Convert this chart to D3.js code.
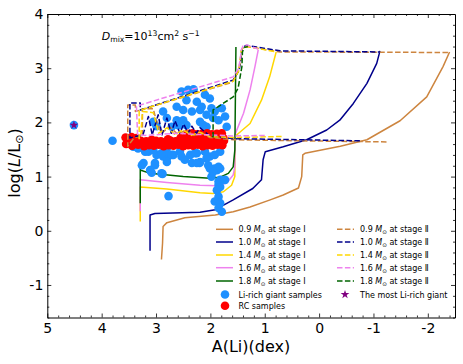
<!DOCTYPE html>
<html><head><meta charset="utf-8">
<script src="https://cdn.jsdelivr.net/npm/d3@7"></script>
<style>body{margin:0;background:#fff}svg{display:block}text{font-family:"DejaVu Sans",sans-serif}</style>
</head><body><svg id="c" width="463" height="364"></svg>
<script>
const xTicks=[5,4,3,2,1,0,-1,-2];
const xTickLabels=["5","4","3","2","1","0","-1","-2"];
const yTicks=[4,3,2,1,0,-1];
const yTickLabels=["4","3","2","1","0","-1"];
const masses=["0.9","1.0","1.4","1.6","1.8"];
const colors=["#CD853F","#00008B","#FFD700","#EE82EE","#006400"];

// stage I tracks [A(Li), logL]
const s1_09=[[2.90,-0.53],[2.88,-0.23],[2.87,0.08],[2.80,0.15],[2.47,0.24],[1.91,0.29],[1.58,0.35],[1.27,0.44],[0.90,0.57],[0.66,0.66],[0.38,0.79],[0.32,1.00],[0.30,1.40],[0.26,1.43],[-0.39,1.56],[-0.88,1.68],[-1.49,2.03],[-1.98,2.47],[-2.28,3.03],[-2.40,3.30]];
const s1_10=[[3.11,-0.37],[3.11,0.29],[3.02,0.32],[2.19,0.34],[1.91,0.39],[1.58,0.57],[1.22,0.78],[1.06,0.94],[1.03,1.31],[0.99,1.46],[0.66,1.55],[0.23,1.68],[-0.14,1.86],[-0.38,2.04],[-0.63,2.35],[-0.88,2.72],[-1.06,3.09],[-1.12,3.32]];
const s1_14=[[3.29,0.17],[3.29,0.81],[2.80,0.77],[2.19,0.70],[1.95,0.69],[1.76,0.72],[1.61,0.84],[1.55,1.00],[1.55,1.74],[1.27,1.98],[1.06,2.41],[0.91,2.84],[0.79,3.30]];
const s1_16=[[3.29,0.36],[3.29,0.94],[2.80,0.89],[2.19,0.84],[1.88,0.83],[1.70,0.88],[1.58,1.03],[1.55,1.18],[1.55,1.77],[1.39,2.17],[1.27,2.60],[1.18,3.03],[1.12,3.34]];
const s1_18=[[3.29,0.51],[3.29,1.27],[3.29,1.12],[3.11,1.06],[2.50,1.00],[2.01,0.97],[1.82,0.99],[1.67,1.06],[1.58,1.18],[1.55,1.49],[1.53,3.39]];

// stage II tracks
const s2_09=[[-1.24,1.64],[0.35,1.66],[1.58,1.68],[2.01,1.72],[2.15,1.80],[2.30,1.76],[2.45,1.86],[2.60,1.78],[2.75,1.92],[2.90,1.80],[3.00,2.05],[3.05,2.25],[3.25,2.25],[3.25,1.75],[3.40,1.72],[3.52,1.56],[3.52,2.32],[3.38,2.32],[3.38,2.20],[1.60,2.74],[1.48,2.95],[1.45,3.15],[1.43,3.33],[1.40,3.38],[1.33,3.40],[1.15,3.37],[0.72,3.30],[-2.39,3.29]];
const s2_10=[[-0.75,1.66],[0.35,1.68],[1.58,1.70],[2.01,1.75],[2.19,1.90],[2.26,1.80],[2.34,1.93],[2.41,1.80],[2.49,1.97],[2.56,1.80],[2.65,2.03],[2.72,1.80],[2.80,2.08],[2.89,1.77],[2.96,2.14],[3.07,1.77],[3.14,2.11],[3.24,1.77],[3.42,1.73],[3.48,1.71],[3.48,2.36],[3.29,2.36],[3.29,2.23],[1.58,2.78],[1.47,2.97],[1.44,3.15],[1.42,3.34],[1.39,3.40],[1.33,3.42],[1.15,3.39],[0.72,3.32],[-1.12,3.30]];
const s2_14=[[0.69,1.74],[1.58,1.72],[2.01,1.74],[2.20,1.82],[2.35,1.76],[2.50,1.86],[2.65,1.78],[2.80,1.90],[2.95,1.80],[3.05,2.18],[3.25,2.20],[3.28,1.76],[3.31,1.70],[3.31,2.22],[1.58,2.76],[1.48,2.95],[1.45,3.15],[1.43,3.32],[1.40,3.38],[1.34,3.40],[1.15,3.37],[0.79,3.30]];
const s2_16=[[1.00,1.76],[1.58,1.75],[2.01,1.77],[2.30,1.78],[2.60,1.80],[2.90,1.78],[3.20,1.76],[3.34,1.78],[3.36,2.30],[1.58,2.84],[1.48,3.00],[1.45,3.17],[1.43,3.34],[1.40,3.41],[1.33,3.43],[1.12,3.35]];
const s2_18=[[1.95,1.72],[1.95,2.23],[1.58,2.47],[1.49,2.63],[1.42,3.03],[1.41,3.30],[1.38,3.38],[1.31,3.40]];

const liRichGiants=[[4.51,1.95],[3.80,1.66],[3.26,1.21],[3.02,1.21],[3.08,1.07],[2.88,1.05],[2.77,0.64],[2.53,1.37],[2.34,1.25],[2.20,1.25],
[2.53,2.57],[2.41,2.60],[2.31,2.61],[2.44,2.41],[2.25,2.38],[2.01,2.44],[2.62,2.29],[2.50,2.23],[2.34,2.20],[2.19,2.23],
[2.07,2.14],[1.92,2.20],[1.79,2.26],[1.73,2.11],[1.85,2.04],[2.19,2.01],[2.50,2.04],[2.59,1.95],[2.71,1.92],[2.87,2.20],
[2.80,2.08],[2.99,1.93],[1.98,2.26],[1.95,2.08],[1.70,1.92],[2.13,1.95],[2.16,2.29],[2.44,1.95],[2.07,1.92],[2.62,2.04],
[3.36,1.55],[3.42,1.55],[3.23,1.55],[3.14,1.46],[2.99,1.40],[2.80,1.34],[2.56,1.46],[2.37,1.40],[2.19,1.27],[2.01,1.37],
[1.82,1.46],[3.23,1.25],[3.11,1.12],[2.90,1.06],[2.01,1.15],[1.88,1.12],[1.98,1.00],[1.82,0.94],[1.85,0.85],[2.87,1.37],
[2.07,1.34],[1.92,1.15],[1.85,1.18],[1.85,0.91],[1.82,0.81],[1.88,0.75],[1.85,0.63],[1.92,0.54],[1.82,0.51],[1.85,0.42],
[1.79,0.35],[3.05,1.49],[2.80,1.52],[2.68,1.40],[3.46,1.68],[2.10,2.51],[3.05,2.01],[2.25,1.43],[2.83,1.46],
[3.33,1.52],[3.20,1.46],[2.90,1.43],[2.71,1.40],[2.28,1.43],[2.10,1.46],[1.92,1.40],[2.80,1.27],[2.47,1.31],[2.25,1.25],
[3.02,1.25],[2.04,1.21],[1.82,1.15],[1.95,1.09],[1.73,0.94]];

const rcSamples=[[3.55,1.60],[3.44,1.57],[3.33,1.59],[3.22,1.56],[3.13,1.58],[3.04,1.57],[2.95,1.59],[2.86,1.56],[2.77,1.58],[2.68,1.57],[2.59,1.59],[2.50,1.56],[2.41,1.58],[2.32,1.57],[2.23,1.59],[2.14,1.56],[2.05,1.58],[1.96,1.57],[1.87,1.59],[1.78,1.58],
[3.50,1.66],[3.39,1.64],[3.28,1.66],[3.18,1.65],[3.09,1.64],[3.00,1.66],[2.91,1.65],[2.82,1.64],[2.73,1.66],[2.64,1.65],[2.55,1.64],[2.46,1.66],[2.37,1.65],[2.28,1.64],[2.19,1.66],[2.10,1.65],[2.01,1.64],[1.92,1.66],[1.83,1.65],[1.75,1.66],
[3.56,1.72],[3.45,1.73],[3.36,1.71],[3.08,1.68],[2.78,1.69],[2.55,1.71],[2.46,1.72],[2.37,1.73],[2.28,1.71],[2.19,1.72],[2.10,1.73],[2.01,1.71],[1.92,1.72],[1.83,1.73],[1.76,1.71],
[2.42,1.79],[2.33,1.80],[2.24,1.78],[2.15,1.79],[2.06,1.80],[1.97,1.78],[1.88,1.79],[1.79,1.80]];

const mostLiRich=[[4.51,1.95]];

const stageI=[s1_09,s1_10,s1_14,s1_16,s1_18];
const stageII=[s2_09,s2_10,s2_14,s2_16,s2_18];

const x=d3.scaleLinear().domain([5,-2.5]).range([47.3,455]);
const y=d3.scaleLinear().domain([-1.6,4]).range([317.5,14]);
const svg=d3.select("#c");
const line=d3.line().x(d=>x(d[0])).y(d=>y(d[1]));
const plot=svg.append("g");

stageI.forEach((t,i)=>plot.append("path").attr("d",line(t)).attr("fill","none")
  .attr("stroke",colors[i]).attr("stroke-width",1.5).attr("stroke-linejoin","round"));

plot.selectAll("circle.b").data(liRichGiants).join("circle").attr("class","b")
  .attr("cx",d=>x(d[0])).attr("cy",d=>y(d[1])).attr("r",4.3).attr("fill","#1E90FF");
plot.selectAll("circle.r").data(rcSamples).join("circle").attr("class","r")
  .attr("cx",d=>x(d[0])).attr("cy",d=>y(d[1])).attr("r",4.3).attr("fill","#FF0000");

stageII.forEach((t,i)=>plot.append("path").attr("d",line(t)).attr("fill","none")
  .attr("stroke",colors[i]).attr("stroke-width",1.5).attr("stroke-dasharray","5.5,2.4").attr("stroke-linejoin","round"));

const star=d3.symbol().type(d3.symbolStar).size(24);
plot.selectAll("path.s").data(mostLiRich).join("path").attr("class","s").attr("d",star)
  .attr("transform",d=>`translate(${x(d[0])},${y(d[1])})`).attr("fill","#800080");

// axes
const fs=14;
function styleAxis(g){g.selectAll("path.domain").attr("stroke","#000").attr("stroke-width",1);
  g.selectAll(".tick line").attr("stroke","#000").attr("stroke-width",0.8);
  g.attr("font-family","DejaVu Sans").attr("font-size",fs);
  g.selectAll("text").attr("fill","#000");}
const xMinor=d3.range(-24,50,2).map(v=>v/10).filter(v=>Math.abs(v-Math.round(v))>1e-6);
const yMinor=d3.range(-16,40,2).map(v=>v/10).filter(v=>Math.abs(v-Math.round(v))>1e-6);
const B=y(-1.6),T=y(4),L=x(5),R=x(-2.5);
svg.append("g").attr("transform",`translate(0,${B})`).call(d3.axisBottom(x).tickValues(xTicks).tickFormat((d,i)=>xTickLabels[i]).tickSizeInner(-4).tickSizeOuter(0).tickPadding(5.5)).call(styleAxis);
svg.append("g").attr("transform",`translate(0,${B})`).call(d3.axisBottom(x).tickValues(xMinor).tickFormat("").tickSizeInner(-2).tickSizeOuter(0)).call(styleAxis).select(".domain").remove();
svg.append("g").attr("transform",`translate(0,${T})`).call(d3.axisTop(x).tickValues(xTicks).tickFormat("").tickSizeInner(-4).tickSizeOuter(0)).call(styleAxis);
svg.append("g").attr("transform",`translate(0,${T})`).call(d3.axisTop(x).tickValues(xMinor).tickFormat("").tickSizeInner(-2).tickSizeOuter(0)).call(styleAxis).select(".domain").remove();
svg.append("g").attr("transform",`translate(${L},0)`).call(d3.axisLeft(y).tickValues(yTicks).tickFormat((d,i)=>yTickLabels[i]).tickSizeInner(-4).tickSizeOuter(0).tickPadding(4)).call(styleAxis);
svg.append("g").attr("transform",`translate(${L},0)`).call(d3.axisLeft(y).tickValues(yMinor).tickFormat("").tickSizeInner(-2).tickSizeOuter(0)).call(styleAxis).select(".domain").remove();
svg.append("g").attr("transform",`translate(${R},0)`).call(d3.axisRight(y).tickValues(yTicks).tickFormat("").tickSizeInner(-4).tickSizeOuter(0)).call(styleAxis);
svg.append("g").attr("transform",`translate(${R},0)`).call(d3.axisRight(y).tickValues(yMinor).tickFormat("").tickSizeInner(-2).tickSizeOuter(0)).call(styleAxis).select(".domain").remove();

// axis labels
svg.append("text").attr("x",251).attr("y",352).attr("text-anchor","middle").attr("font-size",16).text("A(Li)(dex)");
const yl=svg.append("text").attr("transform","translate(20,163) rotate(-90)").attr("text-anchor","middle").attr("font-size",16);
yl.append("tspan").text("log(");
yl.append("tspan").attr("font-style","italic").text("L");
yl.append("tspan").text("/L");
yl.append("tspan").attr("font-size",11).attr("dy",3).text("⊙");
yl.append("tspan").attr("dy",-3).text(")");

// annotation
const an=svg.append("text").attr("x",101.7).attr("y",39.5).attr("font-size",11);
an.append("tspan").attr("font-style","italic").text("D");
an.append("tspan").attr("font-size",7.7).attr("dy",2.5).text("mix");
an.append("tspan").attr("dy",-2.5).text("=10");
an.append("tspan").attr("font-size",7.7).attr("dy",-4).text("13");
an.append("tspan").attr("dy",4).text("cm");
an.append("tspan").attr("font-size",7.7).attr("dy",-4).text("2");
an.append("tspan").attr("dy",4).text(" s");
an.append("tspan").attr("font-size",7.7).attr("dy",-4).text("\u22121");

// legend
const rowsY=[229.3,242,255,267.7,281];
const lfs=8;
function massLabel(t,m,st){
  t.append("tspan").text(m+" ");
  t.append("tspan").attr("font-style","italic").text("M");
  t.append("tspan").attr("font-size",5.6).attr("dy",1.8).text("⊙");
  t.append("tspan").attr("dy",-1.8).text(" at stage "+st);
}
masses.forEach((m,i)=>{
  svg.append("line").attr("x1",216).attr("x2",233).attr("y1",rowsY[i]).attr("y2",rowsY[i]).attr("stroke",colors[i]).attr("stroke-width",1.5);
  massLabel(svg.append("text").attr("x",238.5).attr("y",rowsY[i]+3).attr("font-size",lfs),m,"\u2160");
  svg.append("line").attr("x1",337).attr("x2",354).attr("y1",rowsY[i]).attr("y2",rowsY[i]).attr("stroke",colors[i]).attr("stroke-width",1.5).attr("stroke-dasharray","5.5,2.4");
  massLabel(svg.append("text").attr("x",360).attr("y",rowsY[i]+3).attr("font-size",lfs),m,"\u2161");
});
svg.append("circle").attr("cx",225).attr("cy",294.5).attr("r",4.3).attr("fill","#1E90FF");
svg.append("text").attr("x",238.5).attr("y",297.5).attr("font-size",lfs).text("Li-rich giant samples");
svg.append("circle").attr("cx",225).attr("cy",305.7).attr("r",4.3).attr("fill","#FF0000");
svg.append("text").attr("x",238.5).attr("y",308.7).attr("font-size",lfs).text("RC samples");
svg.append("path").attr("d",star).attr("transform","translate(345,294.5)").attr("fill","#800080");
svg.append("text").attr("x",360).attr("y",297.5).attr("font-size",lfs).text("The most Li-rich giant");
</script></body></html>
